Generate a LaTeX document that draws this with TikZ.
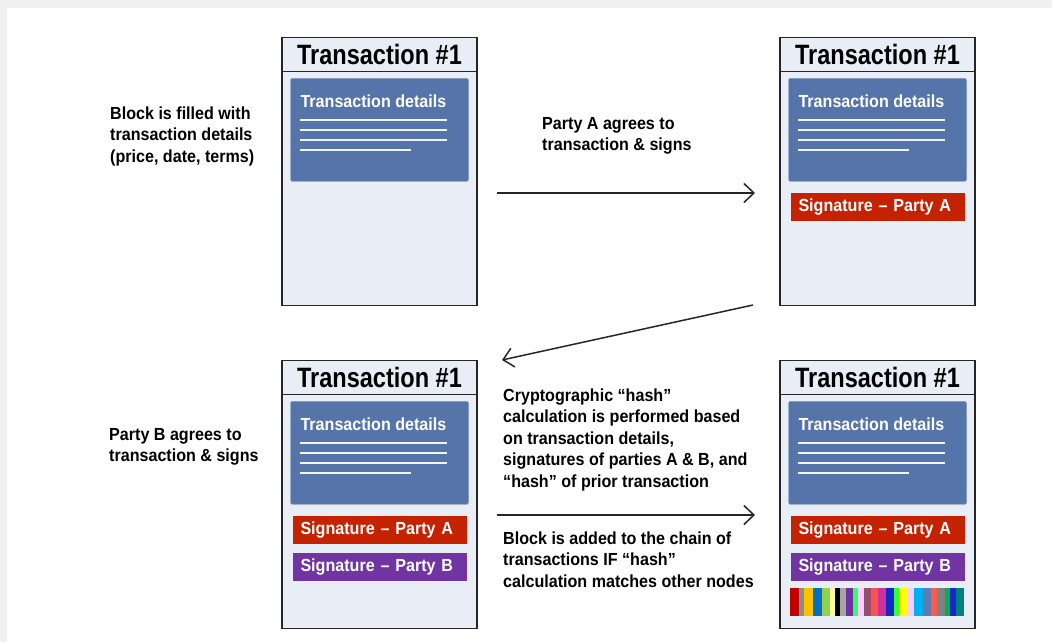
\documentclass[tikz,border=0pt]{standalone}
\usepackage{fontspec}
\setmainfont{Liberation Sans}[FakeStretch=0.92]
\newfontfamily\hdfont{Liberation Sans}[FakeStretch=0.84]
\usetikzlibrary{arrows.meta,positioning}
\definecolor{blkbg}{HTML}{E9EDF5}
\definecolor{detblue}{HTML}{5574A9}
\definecolor{sigred}{HTML}{C42200}
\definecolor{sigpurple}{HTML}{7035A2}
\definecolor{frame}{HTML}{F0F0F0}
\tikzset{
    BLK/.style ={rectangle, draw=black!85, line width=1.5pt, fill=blkbg, minimum width=195pt, minimum height=268pt, inner sep=0pt},
    HDR/.style ={rectangle, draw=black!85, line width=1.5pt, fill=blkbg, minimum width=195pt, minimum height=34pt, inner sep=0pt, font=\hdfont\bfseries\fontsize{28}{30}\selectfont},
    DET/.style ={rectangle, rounded corners=1.5pt, draw=detblue!75!white, fill=detblue, minimum width=178pt, minimum height=103pt, inner sep=0pt},
    DTXT/.style ={inner sep=0pt, text=white, font=\bfseries\fontsize{17.5}{20}\selectfont},
    DLN/.style ={draw=white!92!detblue, line width=2pt},
    SIG/.style ={rectangle, minimum width=174pt, minimum height=28pt, inner sep=0pt, text width=158pt, align=left, text=white, font=\bfseries\fontsize{17.5}{20}\selectfont},
    SA/.style ={SIG, fill=sigred},
    SB/.style ={SIG, fill=sigpurple},
    BAR/.style ={rectangle, minimum width=174pt, minimum height=27pt, inner sep=0pt},
    TXT/.style ={inner sep=0pt, align=left, font=\bfseries\fontsize{17.5}{21.6}\selectfont},
    ARR/.style ={draw=black!85, line width=1.5pt, -{Straight Barb[length=10pt,width=19pt,line width=1.5pt]}}}

\begin{document}
\begin{tikzpicture}[x=1pt,y=-1pt]
        \fill[frame] (0,0) rectangle (1052,642);
        \fill[white] (7,8) rectangle (1052,642);
        % blocks
        \node[BLK] (b1) at (379.5,171.5){};
        \node[BLK] (b2) at (877.5,171.5){};
        \node[BLK] (b3) at (379.5,494.5){};
        \node[BLK] (b4) at (877.5,494.5){};
        \node[HDR,anchor=north] (h1) at (b1.north){Transaction \#1};
        \node[HDR,anchor=north] (h2) at (b2.north){Transaction \#1};
        \node[HDR,anchor=north] (h3) at (b3.north){Transaction \#1};
        \node[HDR,anchor=north] (h4) at (b4.north){Transaction \#1};
        \node[DET,below=6pt of h1] (d1){};
        \node[DET,below=6pt of h2] (d2){};
        \node[DET,below=6pt of h3] (d3){};
        \node[DET,below=6pt of h4] (d4){};
        \foreach \d in {d1,d2,d3,d4}{
            \node[DTXT,anchor=base west] (\d t) at ([xshift=10pt,yshift=-29pt]\d.north west){Transaction details};
            \draw[DLN] ([xshift=10pt,yshift=-42pt]\d.north west) -- ++(147,0);
            \draw[DLN] ([xshift=10pt,yshift=-52pt]\d.north west) -- ++(147,0);
            \draw[DLN] ([xshift=10pt,yshift=-62pt]\d.north west) -- ++(147,0);
            \draw[DLN] ([xshift=10pt,yshift=-72pt]\d.north west) -- ++(111,0);
        }
        \node[SA,below=11pt of d2] (sa2){Signature -- Party A};
        \node[SA,below=11pt of d3] (sa3){Signature -- Party A};
        \node[SB,below=9pt of sa3] (sb3){Signature -- Party B};
        \node[SA,below=11pt of d4] (sa4){Signature -- Party A};
        \node[SB,below=9pt of sa4] (sb4){Signature -- Party B};
        \node[BAR,below=7pt of sb4] (cb4){};
        % hash stripes
        \foreach \a/\b/\c in {0/8.3/C00000,8.3/13.3/8C8C8C,13.3/22.7/FFC000,22.7/31.7/0070C0,31.7/40/92D050,40/45/FFFF99,45/50/000000,50/56/A6A6A6,56/62.7/7030A0,62.7/67.3/33FF66,67.3/73.3/FFCCFF,73.3/80.7/954F72,80.7/87.3/FF5050,87.3/96/CC3399,96/103.3/1428C8,103.3/109/33FF33,109/117.3/FFFF00,117.3/124/FFCCFF,124/132.7/00B0F0,132.7/140.7/5B7DB1,140.7/146.7/FF5B4D,146.7/155/808080,155/160/00B050,160/166/1428C8,166/174/008080}{
            \definecolor{cbc}{HTML}{\c}
            \fill[cbc] ([xshift=\a pt]cb4.north west) rectangle ([xshift=\b pt]cb4.south west);
        }
        % texts (base = last line)
        \node[TXT,anchor=base west] (t1) at (110,162.2){Block is filled with\\transaction details\\(price, date, terms)};
        \node[TXT,anchor=base west] (t2) at (542,150.6){Party A agrees to\\transaction \& signs};
        \node[TXT,anchor=base west] (t3) at (109,461.6){Party B agrees to\\transaction \& signs};
        \node[TXT,anchor=base west] (t4) at (503,487.4){Cryptographic “hash”\\calculation is performed based\\on transaction details,\\signatures of parties A \& B, and\\“hash” of prior transaction};
        \node[TXT,anchor=base west] (t5) at (503,587.2){Block is added to the chain of\\transactions IF “hash”\\calculation matches other nodes};
        % arrows
        \coordinate (a1s) at (497,193);
        \coordinate (a1e) at (755,193);
        \coordinate (a2s) at (753,305);
        \coordinate (a2e) at (502,360);
        \coordinate (a3s) at (497,515);
        \coordinate (a3e) at (755,515);
        \draw[ARR] (a1s) -- (a1e);
        \draw[ARR] (a2s) -- (a2e);
        \draw[ARR] (a3s) -- (a3e);
    \end{tikzpicture}
\end{document}
